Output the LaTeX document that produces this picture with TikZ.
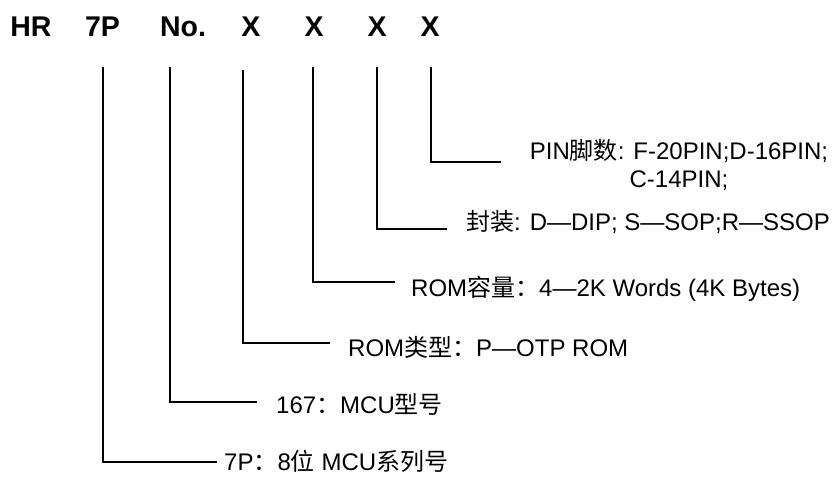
\documentclass[tikz,border=0pt]{standalone}
\usepackage{fontspec}
\setmainfont{Liberation Sans}
\newfontfamily\cjk{Noto Sans CJK SC}
\begin{document}
\begin{tikzpicture}[x=1pt,y=-1pt,
  conn/.style={line width=1.8pt},
  hdr/.style={font=\fontsize{28.5}{34}\selectfont\bfseries, inner sep=0pt, anchor=base},
  lbl/.style={font=\fontsize{24}{28}\selectfont, inner sep=0pt, anchor=base west}]
\useasboundingbox (0,0) rectangle (840,477);
% header
\node[hdr] (hHR) at (31,36) {HR};
\node[hdr] (h7P) at (102.5,36) {7P};
\node[hdr] (hNo) at (183,36) {No.};
\node[hdr] (hX1) at (251,36) {X};
\node[hdr] (hX2) at (314,36) {X};
\node[hdr] (hX3) at (377,36) {X};
\node[hdr] (hX4) at (430,36) {X};
% labels
\node[lbl] (l7p) at (224,470) {7P{\cjk ：}8{\cjk 位} MCU{\cjk 系列号}};
\node[lbl] (l167) at (276,413) {167{\cjk ：}MCU{\cjk 型号}};
\node[lbl] (ltype) at (348,356.6) {ROM{\cjk 类型：}P—OTP ROM};
\node[lbl] (lcap) at (411,296) {ROM{\cjk 容量：}4—2K Words (4K Bytes)};
\node[lbl] (lpkg) at (466,230) {{\cjk 封装}: D—DIP; S—SOP;R—SSOP};
\node[lbl, anchor=base] (lpin1) at (679,159) {PIN{\cjk 脚数}: F-20PIN;D-16PIN;};
\node[lbl, anchor=base] (lpin2) at (679,187) {C-14PIN;};
% connector endpoints
\coordinate (t1) at (103,67);  \coordinate (e1) at (217,462);
\coordinate (t2) at (170,67);  \coordinate (e2) at (257,402);
\coordinate (t3) at (243,70);  \coordinate (e3) at (330,343);
\coordinate (t4) at (313,67);  \coordinate (e4) at (395,282);
\coordinate (t5) at (377,67);  \coordinate (e5) at (447,229);
\coordinate (t6) at (431,67);  \coordinate (e6) at (501,162);
\draw[conn] (t1) |- (e1);
\draw[conn] (t2) |- (e2);
\draw[conn] (t3) |- (e3);
\draw[conn] (t4) |- (e4);
\draw[conn] (t5) |- (e5);
\draw[conn] (t6) |- (e6);
\end{tikzpicture}
\end{document}
